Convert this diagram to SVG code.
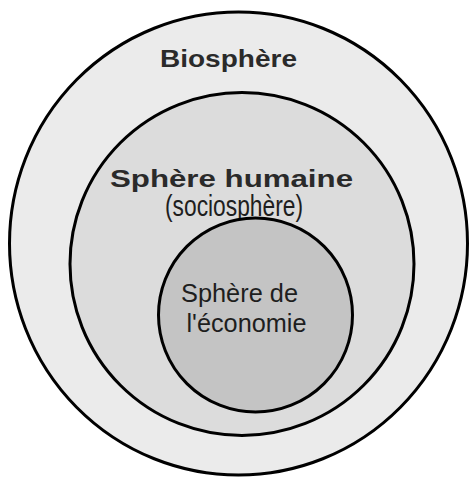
<svg xmlns="http://www.w3.org/2000/svg" width="469" height="477" viewBox="0 0 469 477">
<style>
.ring{stroke:#000;stroke-width:3}
.b{font-family:"Liberation Sans",Arial,sans-serif;font-weight:bold;font-size:23px;fill:#2a2a2a}
.r{font-family:"Liberation Sans",Arial,sans-serif;fill:#1e1e1e}
</style>
<rect width="469" height="477" fill="#ffffff"/>
<g id="biosphere">
<ellipse class="ring" cx="238.5" cy="243.5" rx="229" ry="231.5" fill="#ebebeb"/>
<text class="b" x="160" y="67" textLength="137" lengthAdjust="spacingAndGlyphs">Biosphère</text>
</g>
<g id="sphere-humaine">
<ellipse class="ring" cx="242" cy="264" rx="172" ry="171.5" fill="#dcdcdc"/>
<text class="b" x="110" y="186.5" textLength="243" lengthAdjust="spacingAndGlyphs">Sphère humaine</text>
<text class="r" x="165" y="216" font-size="29" textLength="138" lengthAdjust="spacingAndGlyphs">(sociosphère)</text>
</g>
<g id="sphere-economie">
<circle class="ring" cx="255.5" cy="315" r="97" fill="#c4c4c4"/>
<text class="r" x="181" y="301.5" font-size="25" textLength="117" lengthAdjust="spacingAndGlyphs">Sphère de</text>
<text class="r" x="186.5" y="331.5" font-size="25" textLength="120" lengthAdjust="spacingAndGlyphs">l'économie</text>
</g>
<g id="connectors"/>
</svg>
